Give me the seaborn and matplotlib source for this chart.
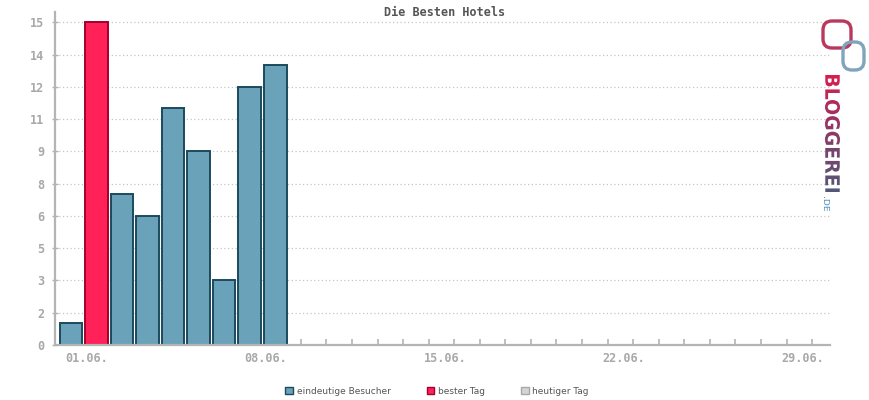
#!/usr/bin/env python3

import numpy as np
import pandas as pd
import seaborn as sns
import matplotlib.pyplot as plt
import matplotlib.transforms as mtransforms
from matplotlib.patches import Patch, PathPatch, FancyBboxPatch
from matplotlib.textpath import TextPath
from matplotlib.font_manager import FontProperties
from matplotlib.colors import LinearSegmentedColormap

# Chart data
title = "Die Besten Hotels"
days = [1, 2, 3, 4, 5, 6, 7, 8, 9]
visitors = [1, 15, 7, 6, 11, 9, 3, 12, 13]
kinds = ["eindeutige Besucher", "bester Tag", "eindeutige Besucher",
         "eindeutige Besucher", "eindeutige Besucher", "eindeutige Besucher",
         "eindeutige Besucher", "eindeutige Besucher", "eindeutige Besucher"]
legend_labels = ["eindeutige Besucher", "bester Tag", "heutiger Tag"]
y_ticks = [0, 1.5, 3, 4.5, 6, 7.5, 9, 10.5, 12, 13.5, 15]
y_tick_labels = ["0", "2", "3", "5", "6", "8", "9", "11", "12", "14", "15"]
x_ticks = list(range(1, 31))
label_days = [1, 8, 15, 22, 29]
x_tick_labels = ["01.06.", "08.06.", "15.06.", "22.06.", "29.06."]

fills = {"eindeutige Besucher": "#6aa3b9", "bester Tag": "#ff2157", "heutiger Tag": "#d4d4d4"}
edges = {"eindeutige Besucher": "#1b4a5c", "bester Tag": "#a3002c", "heutiger Tag": "#a8a8a8"}
axis_grey = "#b4b4b4"
label_grey = "#a8a8a8"

sns.set_style("white")
plt.rcParams["font.family"] = ["DejaVu Sans"]

df = pd.DataFrame({"day": days, "visitors": visitors, "kind": kinds})

fig = plt.figure(figsize=(8.7, 4), dpi=100)
ax = fig.add_axes([55 / 870, 1 - 345 / 400, (830 - 55) / 870, (345 - 12) / 400])

sns.barplot(data=df, x="day", y="visitors", hue="kind", palette=fills,
            native_scale=True, dodge=False, width=0.88, linewidth=1.4,
            saturation=1, legend=False, ax=ax)

# edge colours follow the fill
for bar in ax.patches:
    fc = bar.get_facecolor()
    if fc[0] > 0.9:
        bar.set_edgecolor(edges["bester Tag"])
    else:
        bar.set_edgecolor(edges["eindeutige Besucher"])

ax.set_xlim(0.382, 30.70)
ax.set_ylim(0, 15.48)
ax.set_xlabel("")
ax.set_ylabel("")

mono = FontProperties(family="DejaVu Sans Mono", weight="bold", size=8.5)

ax.set_yticks(y_ticks)
ax.set_yticklabels(y_tick_labels, fontproperties=mono, color=label_grey)

# tick marks on every day (minor), date labels a bit right of their day (major, no mark)
ax.set_xticks(x_ticks, minor=True)
ax.set_xticks([d + 0.63 for d in label_days])
ax.set_xticklabels(x_tick_labels, fontproperties=mono, color=label_grey)

ax.tick_params(axis="x", which="minor", bottom=True, direction="in", length=4,
               width=1.2, color=axis_grey)
ax.tick_params(axis="x", which="major", bottom=True, length=0, pad=5)
ax.tick_params(axis="y", left=True, direction="inout", length=5, width=1.0,
               color=axis_grey, pad=5)

ax.yaxis.grid(True, linestyle=(0, (1, 2)), color="#c4c4c4", linewidth=0.9)
ax.xaxis.grid(False)
ax.set_axisbelow(True)

for side in ["top", "right"]:
    ax.spines[side].set_visible(False)
for side in ["left", "bottom"]:
    ax.spines[side].set_color(axis_grey)
    ax.spines[side].set_linewidth(1.6)

fig.text(445 / 870, 1 - 12 / 400, title, ha="center", va="center",
         family="DejaVu Sans Mono", weight="bold", size=8.5, color="#555555")

# legend below the plot
handles = [Patch(facecolor=fills[k], edgecolor=edges[k], linewidth=1.0, label=k)
           for k in legend_labels]
fig.legend(handles=handles, loc="center", bbox_to_anchor=(437 / 870, 1 - 391 / 400),
           ncol=3, frameon=False, fontsize=6.5, handlelength=0.85, handleheight=0.85,
           handletextpad=0.4, columnspacing=4.0, labelcolor="#555555")

# Bloggerei logo, drawn in pixel coordinates
lax = fig.add_axes([0, 0, 1, 1], zorder=5)
lax.axis("off")


def vertical_word(text, left, top, width, length, weight="bold"):
    tp = TextPath((0, 0), text, size=20, prop=FontProperties(family="DejaVu Sans", weight=weight))
    ext = tp.get_extents()
    sw = length / ext.width
    sh = width / ext.height
    tr = mtransforms.Affine2D.from_values(0, sw, sh, 0,
                                          left - ext.y0 * sh, top - ext.x0 * sw)
    return tr.transform_path(tp)


word = vertical_word("BLOGGEREI", 825, 75, 15, 117, weight="semibold")
word_patch = PathPatch(word, facecolor="none", edgecolor="none")
lax.add_patch(word_patch)
grad_cmap = LinearSegmentedColormap.from_list("logo", ["#dc1c4e", "#8a3a68", "#4e5a7a"])
grad = np.linspace(0, 1, 100).reshape(-1, 1)
im = lax.imshow(grad, extent=[820, 845, 195, 72], origin="upper", cmap=grad_cmap, aspect="auto")
im.set_clip_path(word_patch)

de = vertical_word(".DE", 824, 197, 6, 14, weight="normal")
lax.add_patch(PathPatch(de, facecolor="#4a8fb8", edgecolor="none"))

lax.add_patch(FancyBboxPatch((823, 21), 28, 27, boxstyle="round,pad=0,rounding_size=9",
                             facecolor="none", edgecolor="#b8385e", linewidth=2.4))
lax.add_patch(FancyBboxPatch((843, 42), 21, 28, boxstyle="round,pad=0,rounding_size=9",
                             facecolor="none", edgecolor="#7fa4bb", linewidth=2.4))

lax.set_xlim(0, 870)
lax.set_ylim(400, 0)

fig.savefig("out.png", dpi=100)
